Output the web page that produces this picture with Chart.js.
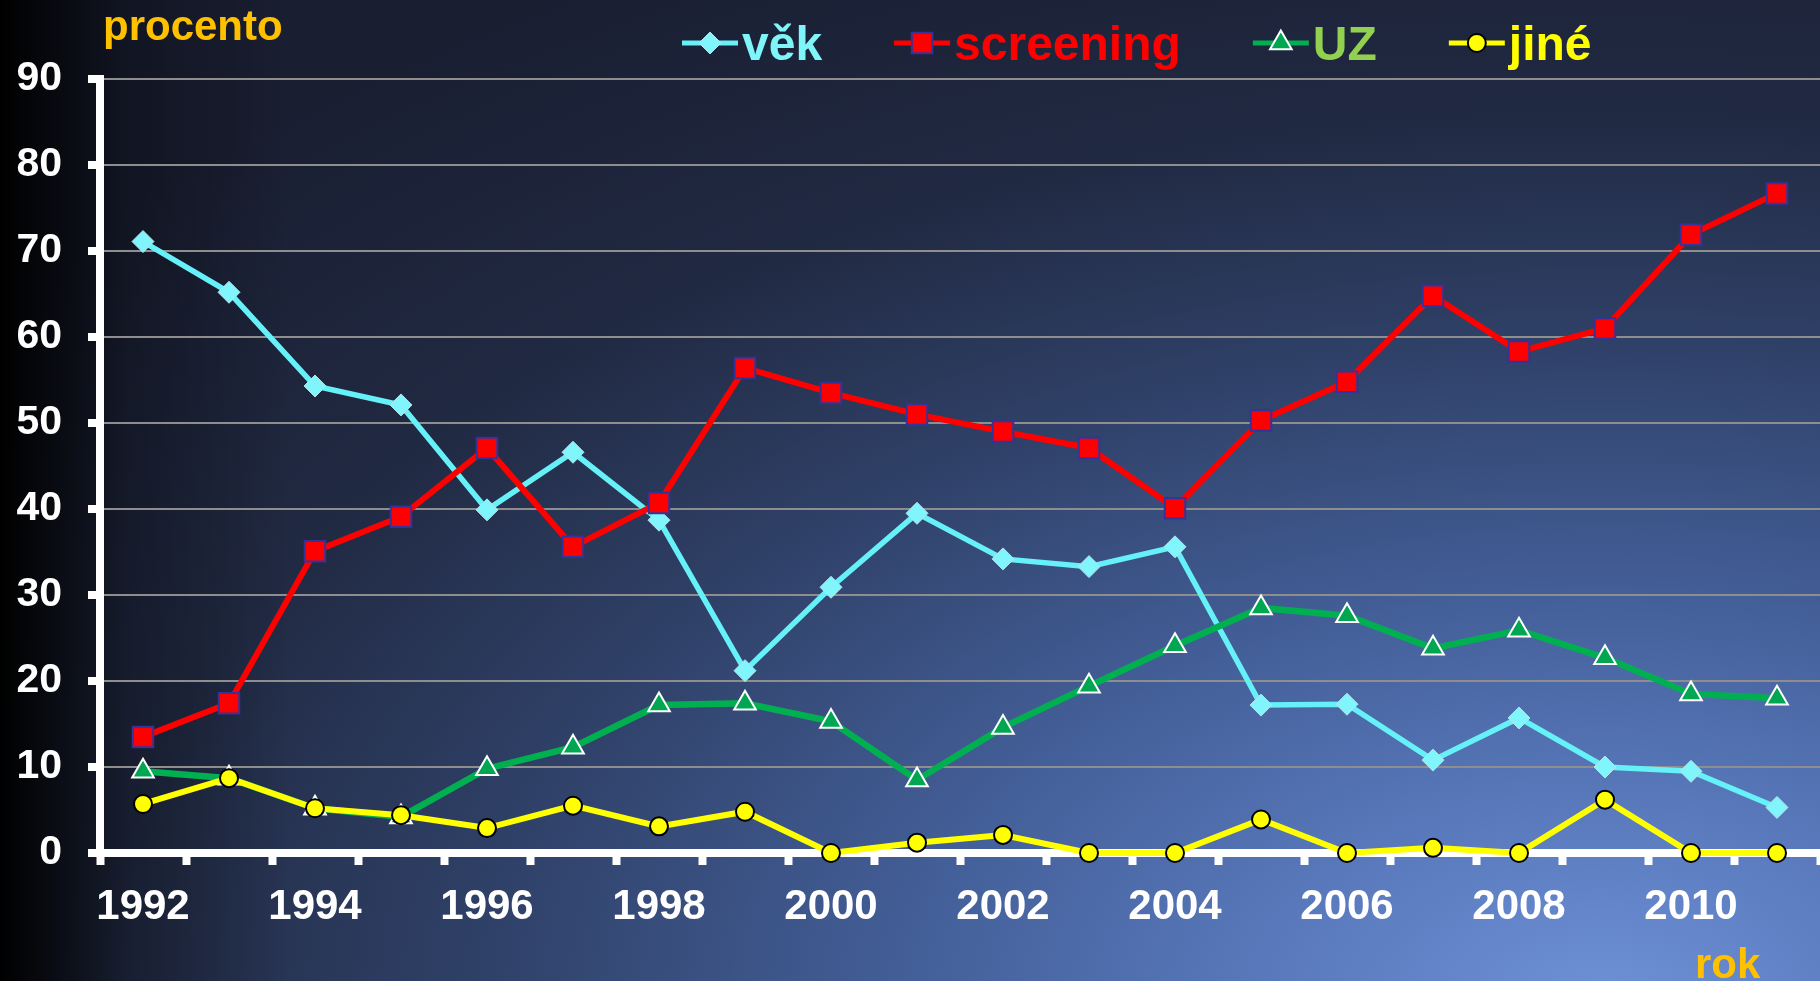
<!DOCTYPE html>
<html>
<head>
<meta charset="utf-8">
<script src="https://cdn.jsdelivr.net/npm/chart.js@4.4.1/dist/chart.umd.min.js"></script>
<style>
  html, body { margin: 0; padding: 0; }
  body {
    width: 1820px; height: 981px; overflow: hidden;
    background:
      linear-gradient(to right, #000 0%, rgba(0,0,0,0.75) 2.5%, rgba(0,0,0,0.3) 7%, rgba(0,0,0,0) 16%),
      radial-gradient(ellipse 110% 120% at 88% 102%, #6e90d6 0%, #5a7abd 16%, #44609a 34%, #30426a 55%, #212a43 75%, #191e31 100%);
  }
  canvas { display: block; }
</style>
</head>
<body>
<canvas id="chart" width="1820" height="981"></canvas>
<script>
(function (window, undefined) {

  var years = ['1992', '1993', '1994', '1995', '1996', '1997', '1998', '1999', '2000', '2001',
               '2002', '2003', '2004', '2005', '2006', '2007', '2008', '2009', '2010', '2011'];
  var seriesNames = ['věk', 'screening', 'UZ', 'jiné'];
  var vek       = [71.1, 65.2, 54.3, 52.1, 39.9, 46.6, 38.7, 21.2, 30.9, 39.5, 34.2, 33.3, 35.6, 17.2, 17.3, 10.8, 15.7, 10.0, 9.5, 5.3];
  var screening = [13.5, 17.4, 35.1, 39.1, 47.1, 35.6, 40.7, 56.4, 53.5, 51.0, 49.0, 47.1, 40.1, 50.3, 54.8, 64.8, 58.3, 61.0, 71.9, 76.7];
  var uz        = [9.5, 8.7, 5.2, 4.2, 9.8, 12.3, 17.2, 17.4, 15.3, 8.5, 14.6, 19.4, 24.1, 28.5, 27.6, 23.8, 25.9, 22.7, 18.5, 18.0];
  var jine      = [5.7, 8.7, 5.2, 4.4, 2.9, 5.5, 3.1, 4.8, 0, 1.2, 2.1, 0, 0, 3.9, 0, 0.6, 0, 6.2, 0, 0];
  var yTicks    = [0, 90, 10];   // min, max, step

  var legendTextColors = ['#7ff5fa', '#ff0000', '#92d050', '#ffff00'];
  var FONT = '"Liberation Sans", Arial, sans-serif';

  function makeDataset (label, data, line, style, radius, fill, border, borderW, order, width) {
    return {
      label: label,
      data: data,
      borderColor: line,
      borderWidth: width,
      pointStyle: style,
      pointRadius: radius,
      pointHoverRadius: radius,
      pointBackgroundColor: fill,
      pointBorderColor: border,
      pointBorderWidth: borderW,
      tension: 0,
      clip: false,
      order: order
    };
  }

  // draws the legend (line + marker + text) and the two axis captions
  var captions = {
    id: 'captions',
    afterDraw: function (chart) {
      var ctx = chart.ctx;
      ctx.save();
      ctx.font = 'bold 42px ' + FONT;
      ctx.fillStyle = '#ffc000';
      ctx.textBaseline = 'alphabetic';
      ctx.textAlign = 'left';
      ctx.fillText('procento', 103, 40);
      ctx.fillText('rok', 1695, 978);

      var x = 682, y = 43;
      ctx.font = 'bold 48px ' + FONT;
      chart.data.datasets.forEach(function (ds, i) {
        ctx.strokeStyle = ds.borderColor;
        ctx.lineWidth = 5;
        ctx.beginPath();
        ctx.moveTo(x, y);
        ctx.lineTo(x + 56, y);
        ctx.stroke();
        ctx.fillStyle = ds.pointBackgroundColor;
        ctx.strokeStyle = ds.pointBorderColor;
        ctx.lineWidth = ds.pointBorderWidth;
        Chart.helpers.drawPoint(ctx, { pointStyle: ds.pointStyle, radius: ds.pointRadius, rotation: 0, borderWidth: ds.pointBorderWidth }, x + 28, y);
        ctx.fillStyle = legendTextColors[i];
        ctx.fillText(ds.label, x + 60, 60);
        x += 60 + ctx.measureText(ds.label).width + 72;
      });
      ctx.restore();
    }
  };

  function createChartInDom () {
    var data = {
      labels: years,
      datasets: [
        makeDataset(seriesNames[0], vek, '#66f0f8', 'rectRot', 11, '#80f6fc', '#b2e2ea', 1, 4, 5.5),
        makeDataset(seriesNames[1], screening, '#ff0000', 'rect', 14.5, '#ff0000', '#333399', 2, 3, 6),
        makeDataset(seriesNames[2], uz, '#00b050', 'triangle', 12.5, '#00a651', '#ffffff', 2, 2, 6.5),
        makeDataset(seriesNames[3], jine, '#ffff00', 'circle', 9, '#ffff00', '#000000', 2, 1, 6)
      ]
    };

    var options = {
      responsive: false,
      animation: false,
      devicePixelRatio: 1,
      layout: { autoPadding: false, padding: { top: 79, right: 0, left: 0, bottom: 0 } },
      plugins: { legend: { display: false }, tooltip: { enabled: false } },
      scales: {
        x: {
          offset: true,
          afterFit: function (scale) { scale.height = 128; scale.paddingLeft = 0; scale.paddingRight = 0; },
          grid: { drawOnChartArea: false, drawTicks: true, tickLength: 12, tickWidth: 8, tickColor: '#ffffff', offset: true },
          border: { display: true, color: '#ffffff', width: 8 },
          ticks: {
            autoSkip: false, maxRotation: 0, padding: 17, color: '#ffffff',
            font: { family: FONT, size: 42, weight: 'bold' },
            callback: function (value, index) { return index % 2 === 0 ? this.getLabelForValue(value) : ''; }
          }
        },
        y: {
          min: yTicks[0], max: yTicks[1],
          afterFit: function (scale) { scale.width = 100; },
          grid: {
            color: function (c) { return c.tick && c.tick.value === 0 ? '#ffffff' : '#8e8e8e'; },
            lineWidth: 2, drawTicks: true, tickLength: 12, tickWidth: 8, tickColor: '#ffffff'
          },
          border: { display: true, color: '#ffffff', width: 8 },
          ticks: {
            stepSize: yTicks[2], padding: 26, color: '#ffffff',
            font: { family: FONT, size: 41, weight: 'bold' }
          }
        }
      }
    };

    new Chart(document.getElementById('chart'), { type: 'line', data: data, options: options, plugins: [captions] });
  }

  createChartInDom();

})(window);
</script>
</body>
</html>
